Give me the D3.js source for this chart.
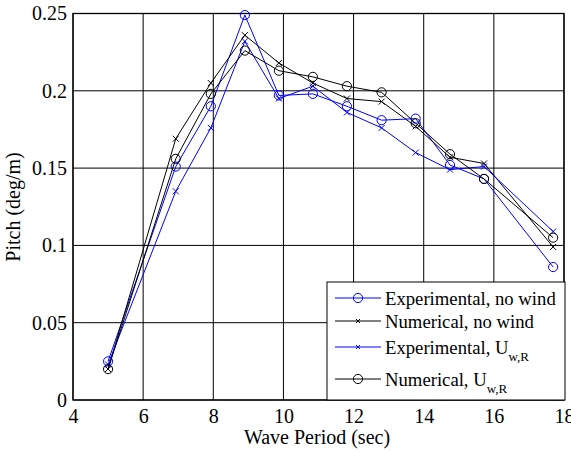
<!DOCTYPE html>
<html>
<head>
<meta charset="utf-8">
<script src="https://cdn.jsdelivr.net/npm/d3@7"></script>
<style>
  body { margin: 0; background: #fff; }
  text { font-family: "Liberation Serif", "Times New Roman", serif; fill: #000; }
</style>
</head>
<body>
<svg id="chart" width="571" height="452" font-family="Liberation Serif, serif"></svg>
<script>
// wave periods (sec)
var periods = [5.0, 6.93, 7.93, 8.9, 9.87, 10.84, 11.81, 12.8, 13.77, 14.75, 15.72, 17.69];
// pitch RAO (deg/m)
var expNoWind = [0.025, 0.151, 0.190, 0.249, 0.197, 0.198, 0.190, 0.181, 0.182, 0.152, 0.143, 0.086];
var numNoWind = [0.020, 0.169, 0.205, 0.236, 0.218, 0.205, 0.195, 0.193, 0.177, 0.157, 0.153, 0.099];
var expWind   = [0.023, 0.135, 0.176, 0.232, 0.195, 0.203, 0.186, 0.176, 0.160, 0.149, 0.151, 0.109];
var numWind   = [0.020, 0.156, 0.198, 0.226, 0.213, 0.209, 0.203, 0.199, 0.179, 0.159, 0.143, 0.105];

var xTicks = [4, 6, 8, 10, 12, 14, 16, 18];
var yTicks = [0, 0.05, 0.1, 0.15, 0.2, 0.25];

var series = [
  { name: "Experimental, no wind", sub: null, values: expNoWind, color: "#0000ff", marker: "circle" },
  { name: "Numerical, no wind", sub: null, values: numNoWind, color: "#000000", marker: "x" },
  { name: "Experimental, U", sub: "w,R", values: expWind, color: "#0000ff", marker: "x" },
  { name: "Numerical, U", sub: "w,R", values: numWind, color: "#000000", marker: "circle" }
];

var margin = {top: 13.5, right: 7, bottom: 52, left: 73},
    width = 571 - margin.left - margin.right,
    height = 452 - margin.top - margin.bottom;

var serif = "'Liberation Serif', 'Times New Roman', serif";

var svg = d3.select("#chart");
var g = svg.append("g")
    .attr("transform", "translate(" + margin.left + "," + margin.top + ")");

var x = d3.scaleLinear().domain([4, 18]).range([0, width]);
var y = d3.scaleLinear().domain([0, 0.25]).range([height, 0]);

// grid
g.selectAll(".vgrid")
    .data(xTicks)
  .enter().append("line")
    .attr("x1", function(d) { return x(d); })
    .attr("x2", function(d) { return x(d); })
    .attr("y1", 0).attr("y2", height)
    .attr("stroke", "#000").attr("stroke-width", 1);

g.selectAll(".hgrid")
    .data(yTicks)
  .enter().append("line")
    .attr("x1", 0).attr("x2", width)
    .attr("y1", function(d) { return y(d); })
    .attr("y2", function(d) { return y(d); })
    .attr("stroke", "#000").attr("stroke-width", 1);

// axes
var xAxis = d3.axisBottom(x).tickValues(xTicks).tickSize(0).tickPadding(9)
    .tickFormat(d3.format("d"));
var yAxis = d3.axisLeft(y).tickValues(yTicks).tickSize(0).tickPadding(6)
    .tickFormat(function(d) { return d === 0 ? "0" : String(+d.toFixed(2)); });

g.append("g")
    .attr("transform", "translate(0," + height + ")")
    .call(xAxis)
    .attr("font-family", serif).attr("font-size", 20)
    .call(function(s) { s.select(".domain").remove(); })
    .selectAll("text")
      .style("font-family", serif)
      .style("font-size", "20px");

g.append("g")
    .call(yAxis)
    .attr("font-family", serif).attr("font-size", 20)
    .call(function(s) { s.select(".domain").remove(); })
    .selectAll("text")
      .style("font-family", serif)
      .style("font-size", "20px");

g.append("rect")
    .attr("width", width).attr("height", height)
    .attr("fill", "none").attr("stroke", "#000").attr("stroke-width", 1.3);

// lines and markers
var line = d3.line()
    .x(function(d, i) { return x(periods[i]); })
    .y(function(d) { return y(d); });

function drawMarker(sel, type, color) {
  if (type === "circle") {
    sel.append("circle").attr("r", 4.6)
      .attr("fill", "none").attr("stroke", color).attr("stroke-width", 1);
  } else {
    sel.append("path").attr("d", "M-3,-3L3,3M-3,3L3,-3")
      .attr("stroke", color).attr("stroke-width", 1);
  }
}

series.forEach(function(s) {
  g.append("path")
      .datum(s.values)
      .attr("fill", "none")
      .attr("stroke", s.color)
      .attr("stroke-width", 1)
      .attr("d", line);

  g.selectAll(null)
      .data(s.values)
    .enter().append("g")
      .attr("transform", function(d, i) { return "translate(" + x(periods[i]) + "," + y(d) + ")"; })
      .each(function() { drawMarker(d3.select(this), s.marker, s.color); });
});

// legend
var legend = svg.append("g").attr("transform", "translate(327,282)");
legend.append("rect")
    .attr("width", 238).attr("height", 118)
    .attr("fill", "#fff").attr("stroke", "#000").attr("stroke-width", 1);

var rowY = [16, 39, 65, 97];
series.forEach(function(s, i) {
  var row = legend.append("g").attr("transform", "translate(0," + rowY[i] + ")");
  row.append("line")
      .attr("x1", 8).attr("x2", 54)
      .attr("stroke", s.color).attr("stroke-width", 1);
  var m = row.append("g").attr("transform", "translate(31,0)");
  if (s.marker === "circle") {
    m.append("circle").attr("r", 4.6).attr("fill", "none")
      .attr("stroke", s.color).attr("stroke-width", 1);
  } else {
    m.append("path").attr("d", "M-2,-2L2,2M-2,2L2,-2")
      .attr("stroke", s.color).attr("stroke-width", 1);
  }
  var t = row.append("text")
      .attr("x", 58).attr("y", 6.5)
      .style("font-family", serif)
      .style("font-size", "18.7px")
      .text(s.name);
  if (s.sub) {
    t.append("tspan")
      .attr("dy", 7)
      .style("font-size", "13px")
      .text(s.sub);
  }
});

// axis labels
svg.append("text")
    .attr("x", 317)
    .attr("y", 444)
    .attr("text-anchor", "middle")
    .style("font-family", serif)
    .style("font-size", "20px")
    .text("Wave Period (sec)");

svg.append("text")
    .attr("transform", "translate(20," + 207 + ") rotate(-90)")
    .attr("text-anchor", "middle")
    .style("font-family", serif)
    .style("font-size", "20px")
    .text("Pitch (deg/m)");
</script>
</body>
</html>
